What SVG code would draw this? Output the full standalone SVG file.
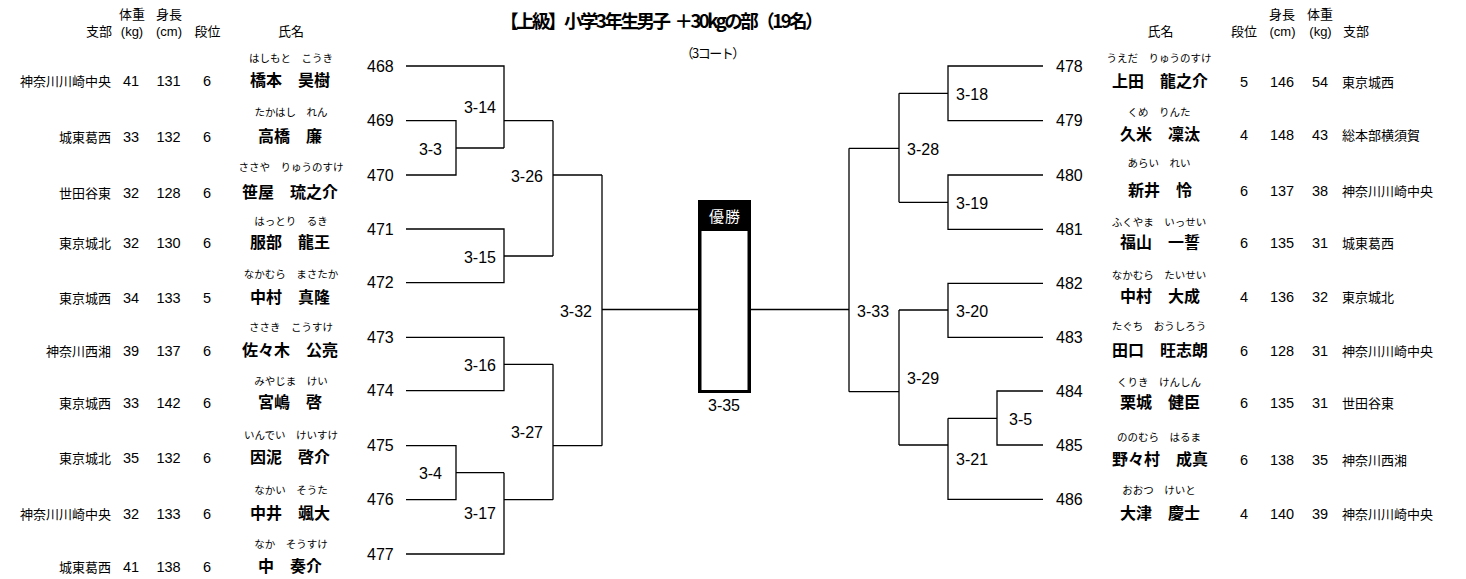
<svg xmlns="http://www.w3.org/2000/svg" width="1466" height="579" viewBox="0 0 1466 579">
<style>
text{font-family:"Liberation Sans","Noto Sans CJK JP",sans-serif;fill:#000}
.hd{font-size:13px}
.hc{font-size:13px;text-anchor:middle}
.br{font-size:13px;text-anchor:end}
.brr{font-size:13px}
.num{font-size:14.5px;text-anchor:middle}
.kana{font-size:10.5px;text-anchor:middle;font-family:"Noto Sans CJK JP",sans-serif}
.nm{font-size:16px;font-weight:700;text-anchor:middle;font-family:"Noto Sans CJK JP",sans-serif}
.seed{font-size:16px}
.m{font-size:16px}
.me{font-size:16px;text-anchor:end}
.ln{fill:none;stroke:#000;stroke-width:1.3}
</style>
<rect width="1466" height="579" fill="#fff"/>
<g id="title">
<text x="500" y="27.5" font-size="18.5" font-weight="700" letter-spacing="-2.5" style="font-family:'Noto Sans CJK JP',sans-serif">【上級】小学3年生男子<tspan dx="6">＋30kgの部（19名）</tspan></text>
<text x="680.5" y="58" font-size="13" letter-spacing="-1.5" style="font-family:'Noto Sans CJK JP',sans-serif">（3コート）</text>
</g>
<g id="header-left">
<text class="hd" x="86" y="36">支部</text>
<text class="hc" x="132" y="18.5">体重</text>
<text class="hc" x="132" y="36">(kg)</text>
<text class="hc" x="169" y="18.5">身長</text>
<text class="hc" x="169" y="36">(cm)</text>
<text class="hc" x="207.5" y="36">段位</text>
<text class="hc" x="291" y="36">氏名</text>
</g>
<g id="header-right">
<text class="hc" x="1160.5" y="36">氏名</text>
<text class="hc" x="1244" y="36">段位</text>
<text class="hc" x="1282" y="18.5">身長</text>
<text class="hc" x="1282.5" y="36">(cm)</text>
<text class="hc" x="1320" y="18.5">体重</text>
<text class="hc" x="1320.5" y="36">(kg)</text>
<text class="hd" x="1343" y="36">支部</text>
</g>
<g id="connectors">
<path class="ln" d="M406,66 H504 V148"/>
<path class="ln" d="M406,120.7 H456 V175 H406"/>
<path class="ln" d="M456,148 H504"/>
<path class="ln" d="M504,120.7 H553"/>
<path class="ln" d="M406,229 H504 V282.7 H406"/>
<path class="ln" d="M504,256 H553"/>
<path class="ln" d="M553,120.7 V256"/>
<path class="ln" d="M553,175 H602"/>
<path class="ln" d="M406,337.3 H504 V390.7 H406"/>
<path class="ln" d="M504,364.3 H553"/>
<path class="ln" d="M406,445.7 H456 V499.7 H406"/>
<path class="ln" d="M456,472.7 H504"/>
<path class="ln" d="M406,554 H504 V472.7"/>
<path class="ln" d="M504,499.7 H553"/>
<path class="ln" d="M553,364.3 V499.7"/>
<path class="ln" d="M553,445.7 H602"/>
<path class="ln" d="M602,175 V445.7"/>
<path class="ln" d="M602,309.5 H698"/>
<path class="ln" d="M1043,66 H948 V120.7 H1043"/>
<path class="ln" d="M948,93.3 H899"/>
<path class="ln" d="M1043,175 H948 V229.3 H1043"/>
<path class="ln" d="M948,202.3 H899"/>
<path class="ln" d="M899,93.3 V202.3"/>
<path class="ln" d="M899,148.3 H849"/>
<path class="ln" d="M1043,283.3 H948 V337.3 H1043"/>
<path class="ln" d="M948,310 H899"/>
<path class="ln" d="M1043,391 H997 V445 H1043"/>
<path class="ln" d="M997,418.3 H948"/>
<path class="ln" d="M1043,499.3 H948 V418.3"/>
<path class="ln" d="M948,445 H899"/>
<path class="ln" d="M899,310 V445"/>
<path class="ln" d="M899,391.7 H849"/>
<path class="ln" d="M849,148.3 V391.7"/>
<path class="ln" d="M849,309.5 H751"/>
</g>
<g id="matches">
<text class="me" x="496" y="113">3-14</text>
<text class="me" x="442" y="155">3-3</text>
<text class="me" x="543" y="181.5">3-26</text>
<text class="me" x="496" y="262.5">3-15</text>
<text class="me" x="592" y="316.5">3-32</text>
<text class="me" x="496" y="371">3-16</text>
<text class="me" x="543" y="437.5">3-27</text>
<text class="me" x="442" y="479">3-4</text>
<text class="me" x="496" y="519">3-17</text>
<text class="m" x="956" y="99.5">3-18</text>
<text class="m" x="907" y="154.5">3-28</text>
<text class="m" x="956" y="208.5">3-19</text>
<text class="m" x="857" y="316.5">3-33</text>
<text class="m" x="956" y="316.5">3-20</text>
<text class="m" x="907" y="383.5">3-29</text>
<text class="m" x="1009" y="425">3-5</text>
<text class="m" x="956" y="465">3-21</text>
</g>
<g id="champion">
<rect x="698" y="200" width="53" height="193" fill="#000"/>
<rect x="701.5" y="231" width="46" height="159" fill="#fff"/>
<text x="725" y="221.5" font-size="15" text-anchor="middle" letter-spacing="1" style="fill:#fff;font-family:'Noto Sans CJK JP',sans-serif">優勝</text>
<text class="m" x="724" y="410.5" text-anchor="middle">3-35</text>
</g>
<g id="p468"><text class="seed" x="367" y="71.7">468</text><text class="kana" x="291" y="62">はしもと　こうき</text><text class="nm" x="290" y="86">橋本　昊樹</text><text class="br" x="111" y="86">神奈川川崎中央</text><text class="num" x="131" y="86">41</text><text class="num" x="168.5" y="86">131</text><text class="num" x="207" y="86">6</text></g>
<g id="p469"><text class="seed" x="367" y="126.4">469</text><text class="kana" x="291" y="115.5">たかはし　れん</text><text class="nm" x="290" y="141.7">高橋　廉</text><text class="br" x="111" y="141.7">城東葛西</text><text class="num" x="131" y="141.7">33</text><text class="num" x="168.5" y="141.7">132</text><text class="num" x="207" y="141.7">6</text></g>
<g id="p470"><text class="seed" x="367" y="180.7">470</text><text class="kana" x="291" y="170.5">ささや　りゅうのすけ</text><text class="nm" x="290" y="197.7">笹屋　琉之介</text><text class="br" x="111" y="197.7">世田谷東</text><text class="num" x="131" y="197.7">32</text><text class="num" x="168.5" y="197.7">128</text><text class="num" x="207" y="197.7">6</text></g>
<g id="p471"><text class="seed" x="367" y="234.7">471</text><text class="kana" x="291" y="224.5">はっとり　るき</text><text class="nm" x="290" y="248.3">服部　龍王</text><text class="br" x="111" y="248.3">東京城北</text><text class="num" x="131" y="248.3">32</text><text class="num" x="168.5" y="248.3">130</text><text class="num" x="207" y="248.3">6</text></g>
<g id="p472"><text class="seed" x="367" y="288.4">472</text><text class="kana" x="291" y="278">なかむら　まさたか</text><text class="nm" x="290" y="302.7">中村　真隆</text><text class="br" x="111" y="302.7">東京城西</text><text class="num" x="131" y="302.7">34</text><text class="num" x="168.5" y="302.7">133</text><text class="num" x="207" y="302.7">5</text></g>
<g id="p473"><text class="seed" x="367" y="343">473</text><text class="kana" x="291" y="330.5">ささき　こうすけ</text><text class="nm" x="290" y="356">佐々木　公亮</text><text class="br" x="111" y="356">神奈川西湘</text><text class="num" x="131" y="356">39</text><text class="num" x="168.5" y="356">137</text><text class="num" x="207" y="356">6</text></g>
<g id="p474"><text class="seed" x="367" y="396.4">474</text><text class="kana" x="291" y="385">みやじま　けい</text><text class="nm" x="290" y="408.3">宮嶋　啓</text><text class="br" x="111" y="408.3">東京城西</text><text class="num" x="131" y="408.3">33</text><text class="num" x="168.5" y="408.3">142</text><text class="num" x="207" y="408.3">6</text></g>
<g id="p475"><text class="seed" x="367" y="451.4">475</text><text class="kana" x="291" y="439">いんでい　けいすけ</text><text class="nm" x="290" y="463.3">因泥　啓介</text><text class="br" x="111" y="463.3">東京城北</text><text class="num" x="131" y="463.3">35</text><text class="num" x="168.5" y="463.3">132</text><text class="num" x="207" y="463.3">6</text></g>
<g id="p476"><text class="seed" x="367" y="505.4">476</text><text class="kana" x="291" y="494">なかい　そうた</text><text class="nm" x="290" y="519">中井　颯大</text><text class="br" x="111" y="519">神奈川川崎中央</text><text class="num" x="131" y="519">32</text><text class="num" x="168.5" y="519">133</text><text class="num" x="207" y="519">6</text></g>
<g id="p477"><text class="seed" x="367" y="559.7">477</text><text class="kana" x="291" y="548">なか　そうすけ</text><text class="nm" x="290" y="571.7">中　奏介</text><text class="br" x="111" y="571.7">城東葛西</text><text class="num" x="131" y="571.7">41</text><text class="num" x="168.5" y="571.7">138</text><text class="num" x="207" y="571.7">6</text></g>
<g id="p478"><text class="seed" x="1056" y="71.7">478</text><text class="kana" x="1159" y="62">うえだ　りゅうのすけ</text><text class="nm" x="1160" y="86.5">上田　龍之介</text><text class="num" x="1244" y="86.5">5</text><text class="num" x="1282" y="86.5">146</text><text class="num" x="1320" y="86.5">54</text><text class="brr" x="1342" y="86.5">東京城西</text></g>
<g id="p479"><text class="seed" x="1056" y="126.4">479</text><text class="kana" x="1159" y="116">くめ　りんた</text><text class="nm" x="1160" y="140">久米　凜汰</text><text class="num" x="1244" y="140">4</text><text class="num" x="1282" y="140">148</text><text class="num" x="1320" y="140">43</text><text class="brr" x="1342" y="140">総本部横須賀</text></g>
<g id="p480"><text class="seed" x="1056" y="180.7">480</text><text class="kana" x="1159" y="167">あらい　れい</text><text class="nm" x="1160" y="196">新井　怜</text><text class="num" x="1244" y="196">6</text><text class="num" x="1282" y="196">137</text><text class="num" x="1320" y="196">38</text><text class="brr" x="1342" y="196">神奈川川崎中央</text></g>
<g id="p481"><text class="seed" x="1056" y="235">481</text><text class="kana" x="1159" y="225.5">ふくやま　いっせい</text><text class="nm" x="1160" y="248.3">福山　一誓</text><text class="num" x="1244" y="248.3">6</text><text class="num" x="1282" y="248.3">135</text><text class="num" x="1320" y="248.3">31</text><text class="brr" x="1342" y="248.3">城東葛西</text></g>
<g id="p482"><text class="seed" x="1056" y="289">482</text><text class="kana" x="1159" y="279">なかむら　たいせい</text><text class="nm" x="1160" y="301.7">中村　大成</text><text class="num" x="1244" y="301.7">4</text><text class="num" x="1282" y="301.7">136</text><text class="num" x="1320" y="301.7">32</text><text class="brr" x="1342" y="301.7">東京城北</text></g>
<g id="p483"><text class="seed" x="1056" y="343">483</text><text class="kana" x="1159" y="330">たぐち　おうしろう</text><text class="nm" x="1160" y="356">田口　旺志朗</text><text class="num" x="1244" y="356">6</text><text class="num" x="1282" y="356">128</text><text class="num" x="1320" y="356">31</text><text class="brr" x="1342" y="356">神奈川川崎中央</text></g>
<g id="p484"><text class="seed" x="1056" y="396.7">484</text><text class="kana" x="1159" y="385.5">くりき　けんしん</text><text class="nm" x="1160" y="408.3">栗城　健臣</text><text class="num" x="1244" y="408.3">6</text><text class="num" x="1282" y="408.3">135</text><text class="num" x="1320" y="408.3">31</text><text class="brr" x="1342" y="408.3">世田谷東</text></g>
<g id="p485"><text class="seed" x="1056" y="450.7">485</text><text class="kana" x="1159" y="440.5">ののむら　はるま</text><text class="nm" x="1160" y="465">野々村　成真</text><text class="num" x="1244" y="465">6</text><text class="num" x="1282" y="465">138</text><text class="num" x="1320" y="465">35</text><text class="brr" x="1342" y="465">神奈川西湘</text></g>
<g id="p486"><text class="seed" x="1056" y="505">486</text><text class="kana" x="1159" y="494">おおつ　けいと</text><text class="nm" x="1160" y="519">大津　慶士</text><text class="num" x="1244" y="519">4</text><text class="num" x="1282" y="519">140</text><text class="num" x="1320" y="519">39</text><text class="brr" x="1342" y="519">神奈川川崎中央</text></g>
</svg>
